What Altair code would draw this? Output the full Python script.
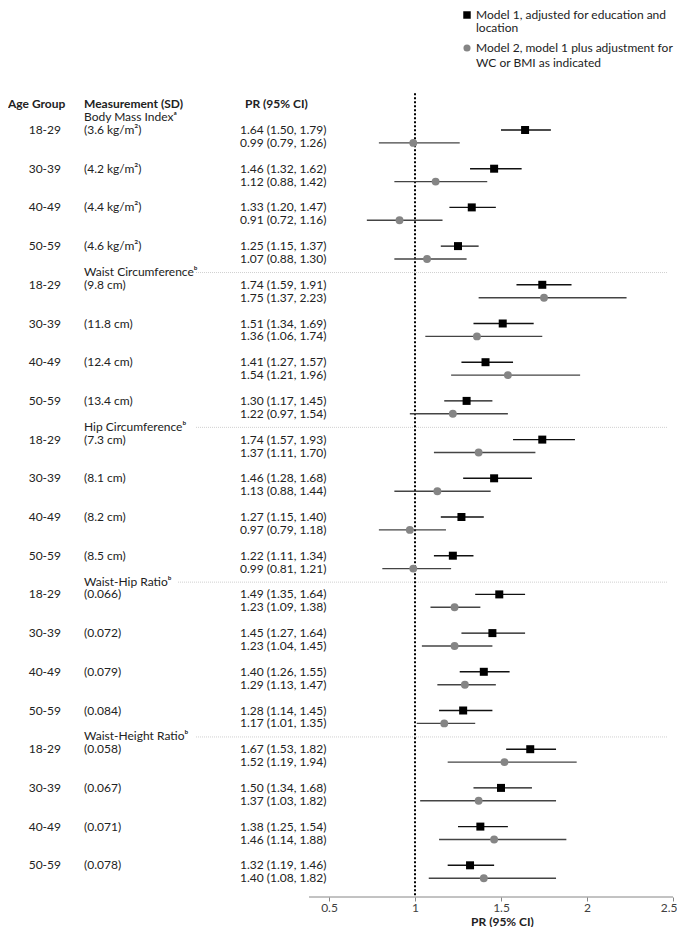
import altair as alt
import pandas as pd

# ---------------- data ----------------
SECTIONS = ["Body Mass Index", "Waist Circumference", "Hip Circumference",
            "Waist-Hip Ratio", "Waist-Height Ratio"]
SECTION_NOTES = ["ᵃ", "ᵇ", "ᵇ", "ᵇ", "ᵇ"]
AGE_GROUPS = ["18-29", "30-39", "40-49", "50-59"]
SD_LABELS = [
    ["(3.6 kg/m²)", "(4.2 kg/m²)", "(4.4 kg/m²)", "(4.6 kg/m²)"],
    ["(9.8 cm)", "(11.8 cm)", "(12.4 cm)", "(13.4 cm)"],
    ["(7.3 cm)", "(8.1 cm)", "(8.2 cm)", "(8.5 cm)"],
    ["(0.066)", "(0.072)", "(0.079)", "(0.084)"],
    ["(0.058)", "(0.067)", "(0.071)", "(0.078)"],
]
M1_PR = [[1.64, 1.46, 1.33, 1.25], [1.74, 1.51, 1.41, 1.30], [1.74, 1.46, 1.27, 1.22],
         [1.49, 1.45, 1.40, 1.28], [1.67, 1.50, 1.38, 1.32]]
M1_LO = [[1.50, 1.32, 1.20, 1.15], [1.59, 1.34, 1.27, 1.17], [1.57, 1.28, 1.15, 1.11],
         [1.35, 1.27, 1.26, 1.14], [1.53, 1.34, 1.25, 1.19]]
M1_HI = [[1.79, 1.62, 1.47, 1.37], [1.91, 1.69, 1.57, 1.45], [1.93, 1.68, 1.40, 1.34],
         [1.64, 1.64, 1.55, 1.45], [1.82, 1.68, 1.54, 1.46]]
M2_PR = [[0.99, 1.12, 0.91, 1.07], [1.75, 1.36, 1.54, 1.22], [1.37, 1.13, 0.97, 0.99],
         [1.23, 1.23, 1.29, 1.17], [1.52, 1.37, 1.46, 1.40]]
M2_LO = [[0.79, 0.88, 0.72, 0.88], [1.37, 1.06, 1.21, 0.97], [1.11, 0.88, 0.79, 0.81],
         [1.09, 1.04, 1.13, 1.01], [1.19, 1.03, 1.14, 1.08]]
M2_HI = [[1.26, 1.42, 1.16, 1.30], [2.23, 1.74, 1.96, 1.54], [1.70, 1.44, 1.18, 1.21],
         [1.38, 1.45, 1.47, 1.35], [1.94, 1.82, 1.88, 1.82]]
AXIS_TICKS = [0.5, 1, 1.5, 2, 2.5]
LEGEND_LINES = [["Model 1, adjusted for education and", "location"],
                ["Model 2, model 1 plus adjustment for", "WC or BMI as indicated"]]

# ---------------- layout ----------------
W, H = 665, 889
PX_PER_UNIT = 172.0
X_MAX = 2.5
X_MIN = X_MAX - W / PX_PER_UNIT
ROW0 = 96.2
PITCH = 12.9
Y_MIN = (0 - ROW0) / PITCH
Y_MAX = (H - ROW0) / PITCH
AXIS_START = 0.384
SEP_START_PX = [188, 188, 170, 188]
SEP_END_PX = 660

def px_to_x(px):
    return X_MIN + px / PX_PER_UNIT

FONT = "Lato"
TXT = "#222222"

# ---------------- tables ----------------
recs = []
for s in range(5):
    for g in range(4):
        base = 2 + 12 * s + 3 * g
        recs.append(dict(row=base, model="Model 1", pr=M1_PR[s][g], lo=M1_LO[s][g], hi=M1_HI[s][g]))
        recs.append(dict(row=base + 1, model="Model 2", pr=M2_PR[s][g], lo=M2_LO[s][g], hi=M2_HI[s][g]))
df = pd.DataFrame(recs)
df["txt"] = df.apply(lambda r: f"{r.pr:.2f} ({r.lo:.2f}, {r.hi:.2f})", axis=1)
m1 = df[df.model == "Model 1"]
m2 = df[df.model == "Model 2"]

lab_recs = []
for s in range(5):
    lab_recs.append(dict(row=1 + 12 * s, txt=SECTIONS[s] + SECTION_NOTES[s]))
    for g in range(4):
        lab_recs.append(dict(row=2 + 12 * s + 3 * g, txt=SD_LABELS[s][g]))
meas = pd.DataFrame(lab_recs)
ages = pd.DataFrame([dict(row=2 + 12 * s + 3 * g, txt=AGE_GROUPS[g]) for s in range(5) for g in range(4)])
seps = pd.DataFrame([dict(row=1 + 12 * s + 0.05, x0=px_to_x(SEP_START_PX[s - 1]), x1=px_to_x(SEP_END_PX))
                     for s in range(1, 5)])
headers = pd.DataFrame([dict(row=0, txt="Age Group", px=0),
                        dict(row=0, txt="Measurement (SD)", px=76),
                        dict(row=0, txt="PR (95% CI)", px=237)])

xscale = alt.Scale(domain=[X_MIN, X_MAX], nice=False, zero=False)
yscale = alt.Scale(domain=[Y_MIN, Y_MAX], nice=False, zero=False, reverse=True)
xaxis = alt.Axis(values=AXIS_TICKS, grid=False, domain=False, ticks=True, tickSize=4,
                 tickColor="#868686", labelFont=FONT, labelFontSize=12, labelColor="#404040",
                 labelPadding=1, labelFlush=True, labelFlushOffset=4, labelOverlap=False,
                 labelExpr="datum.value + ''",
                 title="PR (95% CI)", titleFont=FONT,
                 titleFontSize=12, titleFontWeight="bold", titleColor="#222222",
                 titleX=494, titleY=19, titleBaseline="top", titleAlign="center")

Y = lambda: alt.Y("row:Q", scale=yscale, axis=None)

sep_layer = alt.Chart(seps).mark_rule(color="#d0d0d0", strokeWidth=1, strokeDash=[1, 1]).encode(
    x=alt.X("x0:Q", scale=xscale, axis=xaxis), x2="x1:Q", y=Y())

ref_layer = alt.Chart(pd.DataFrame({"v": [1]})).mark_rule(
    color="black", strokeWidth=2, strokeDash=[2, 2]).encode(
    x=alt.X("v:Q", scale=xscale, axis=xaxis),
    y=alt.Y(datum=-0.85, scale=yscale, axis=None), y2=alt.datum(Y_MAX))

axis_line = alt.Chart(pd.DataFrame({"a": [AXIS_START], "b": [AXIS_TICKS[-1]]})).mark_rule(
    color="#868686", strokeWidth=1).encode(
    x=alt.X("a:Q", scale=xscale, axis=xaxis), x2="b:Q", y=alt.value(H))

err1 = alt.Chart(m1).mark_rule(color="#111111", strokeWidth=1.4).encode(
    x=alt.X("lo:Q", scale=xscale, axis=xaxis), x2="hi:Q", y=Y())
err2 = alt.Chart(m2).mark_rule(color="#444444", strokeWidth=1.4).encode(
    x=alt.X("lo:Q", scale=xscale, axis=xaxis), x2="hi:Q", y=Y())
pt1 = alt.Chart(m1).mark_point(shape="square", filled=True, color="black", size=64, opacity=1).encode(
    x=alt.X("pr:Q", scale=xscale, axis=xaxis), y=Y())
pt2 = alt.Chart(m2).mark_point(shape="circle", filled=True, color="#858585", size=62, opacity=1).encode(
    x=alt.X("pr:Q", scale=xscale, axis=xaxis), y=Y())

hdr = alt.Chart(headers).mark_text(font=FONT, fontSize=12, fontWeight="bold", color=TXT,
                                   align="left", baseline="middle").encode(
    x=alt.X("px:Q", scale=None), y=Y(), text="txt:N")
age_txt = alt.Chart(ages).mark_text(font=FONT, fontSize=12, color=TXT, align="right",
                                    baseline="middle").encode(x=alt.value(53), y=Y(), text="txt:N")
meas_txt = alt.Chart(meas).mark_text(font=FONT, fontSize=12, color=TXT, align="left",
                                     baseline="middle").encode(x=alt.value(76), y=Y(), text="txt:N")
pr_txt = alt.Chart(df).mark_text(font=FONT, fontSize=12, color=TXT, align="left",
                                 baseline="middle").encode(x=alt.value(232), y=Y(), text="txt:N")

one = pd.DataFrame({"k": [0]})
leg_sq = alt.Chart(one).mark_point(shape="square", filled=True, color="black", size=56, opacity=1).encode(
    x=alt.value(459), y=alt.value(7))
leg_ci = alt.Chart(one).mark_point(shape="circle", filled=True, color="#858585", size=50, opacity=1).encode(
    x=alt.value(459), y=alt.value(40))
leg_rows = pd.DataFrame({"t": [LEGEND_LINES[0][0], LEGEND_LINES[0][1], LEGEND_LINES[1][0], LEGEND_LINES[1][1]],
                         "py": [7, 20, 40, 55]})
leg_txt = alt.Chart(leg_rows).mark_text(font=FONT, fontSize=12, color=TXT, align="left",
                                        baseline="middle").encode(
    x=alt.value(468), y=alt.Y("py:Q", scale=None), text="t:N")

chart = alt.layer(sep_layer, ref_layer, axis_line, err2, err1, pt2, pt1,
                  hdr, age_txt, meas_txt, pr_txt, leg_sq, leg_ci, leg_txt).properties(
    width=W, height=H, padding=0
).configure_view(stroke=None).resolve_scale(x="shared", y="independent")

chart.save("out.html", embed_options={"renderer": "svg", "actions": False})
